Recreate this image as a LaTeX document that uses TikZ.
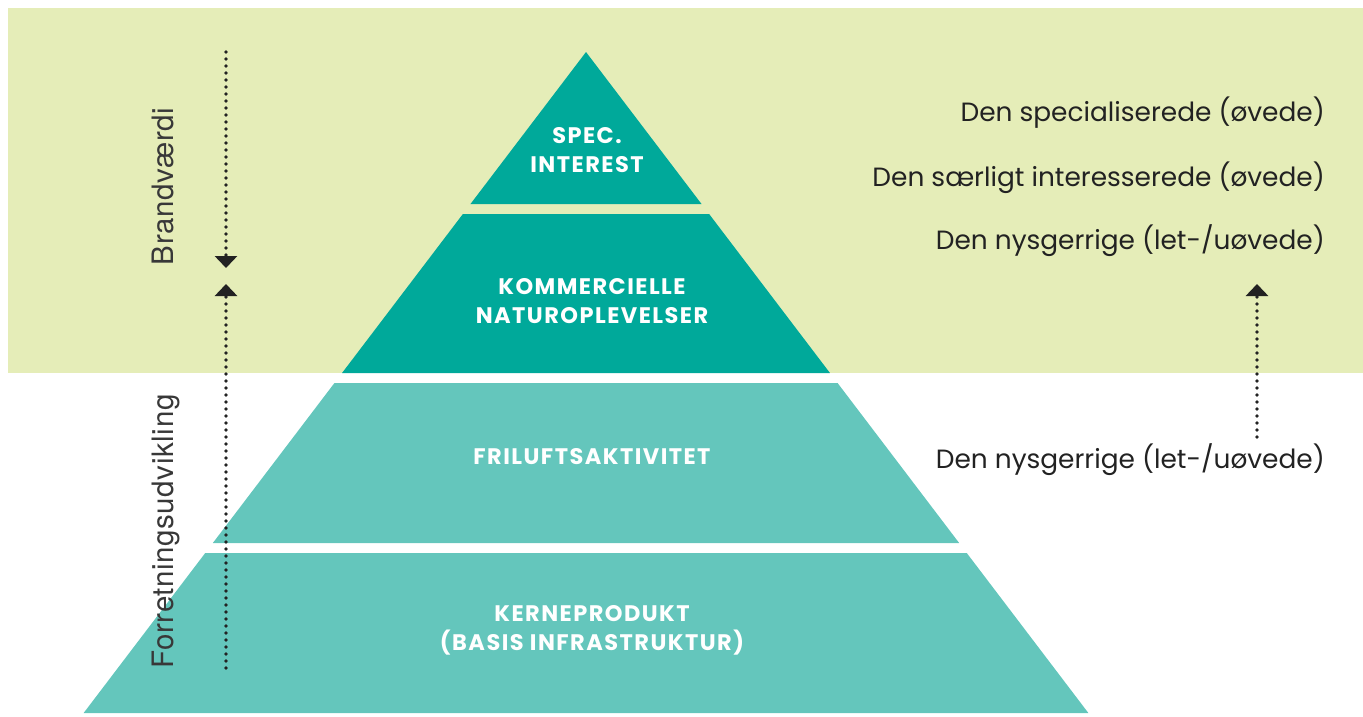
\documentclass[tikz,border=0pt]{standalone}
\usepackage{fontspec}
\setmainfont{Poppins}
\newfontfamily\sidefont[LetterSpace=2]{TeX Gyre Heros}
\newfontfamily\bandfont[LetterSpace=6.5]{Poppins}
\usetikzlibrary{arrows.meta}
\definecolor{bggreen}{HTML}{E5EDB8}
\definecolor{tealdark}{HTML}{00A99A}
\definecolor{teallight}{HTML}{64C6BC}
\definecolor{ink}{HTML}{222222}
\begin{document}
\begin{tikzpicture}[x=1pt,y=-1pt,
  bandtext/.style={text=white, font=\bandfont\fontsize{22.5}{29}\selectfont\bfseries, align=center, inner sep=0pt},
  sidetxt/.style={text=ink, font=\fontsize{26.4}{30}\selectfont, inner sep=0pt, anchor=base east},
  rotlabel/.style={text=ink!90, font=\sidefont\fontsize{29.5}{30}\selectfont, inner sep=0pt, rotate=90, anchor=base},
  dotarrow/.style={draw=ink, line width=3.6pt, line cap=round, dash pattern=on 0pt off 7pt,
    -{Triangle[width=22pt,length=12pt]}}
]
\useasboundingbox (0,0) rectangle (1363,716);
\fill[bggreen] (8,8) rectangle (1363,373);
% pyramid bands
\fill[tealdark] (586,52) -- ({586-0.76*(204-52)},204) -- ({586+0.76*(204-52)},204) -- cycle;
\fill[tealdark] ({586-0.76*(214-52)},214) -- ({586+0.76*(214-52)},214) -- ({586+0.76*(373-52)},373) -- ({586-0.76*(373-52)},373) -- cycle;
\fill[teallight] ({586-0.76*(383-52)},383) -- ({586+0.76*(383-52)},383) -- ({586+0.76*(543-52)},543) -- ({586-0.76*(543-52)},543) -- cycle;
\fill[teallight] ({586-0.76*(553-52)},553) -- ({586+0.76*(553-52)},553) -- ({586+0.76*(713-52)},713) -- ({586-0.76*(713-52)},713) -- cycle;
% band labels
\node[bandtext] (spec) at (587,150) {SPEC.\\INTEREST};
\node[bandtext] (komm) at (592,301) {KOMMERCIELLE\\NATUROPLEVELSER};
\node[bandtext] (fril) at (592,457) {FRILUFTSAKTIVITET};
\node[bandtext] (kern) at (592,630) {KERNEPRODUKT\\(BASIS INFRASTRUKTUR)};
% right labels
\node[sidetxt] (r1) at (1325,121) {Den specialiserede (øvede)};
\node[sidetxt] (r2) at (1325,186) {Den særligt interesserede (øvede)};
\node[sidetxt] (r3) at (1325,249) {Den nysgerrige (let-/uøvede)};
\node[sidetxt] (r4) at (1325,468) {Den nysgerrige (let-/uøvede)};
% left rotated labels
\node[rotlabel] (brand) at (173,186.5) {Brandværdi};
\node[rotlabel] (forr) at (173,531.5) {Forretningsudvikling};
% dotted arrows
\coordinate (la1) at (226,52);
\coordinate (la2) at (226,268);
\coordinate (lb1) at (226,668);
\coordinate (lb2) at (226,284);
\coordinate (ra1) at (1257,437);
\coordinate (ra2) at (1257,284);
\draw[dotarrow] (la1) -- (la2);
\draw[dotarrow] (lb1) -- (lb2);
\draw[dotarrow] (ra1) -- (ra2);
\end{tikzpicture}
\end{document}
